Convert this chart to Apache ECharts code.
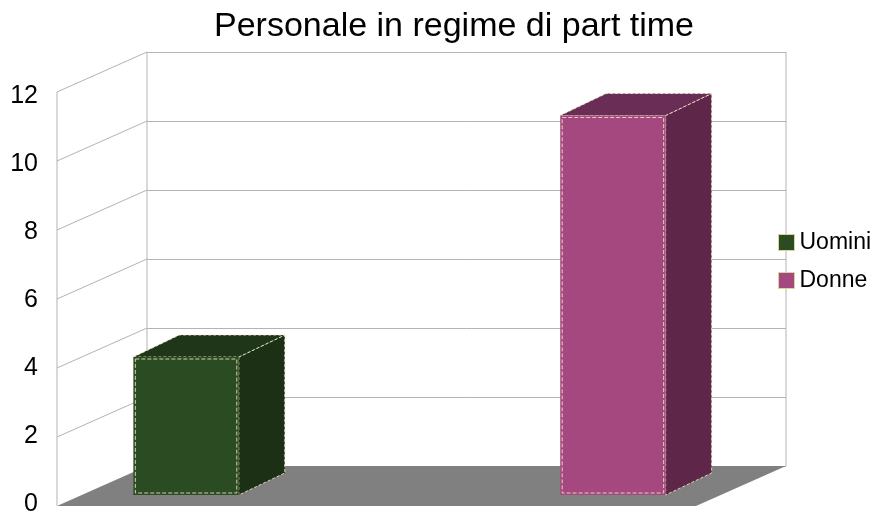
<!DOCTYPE html>
<html>
<head>
<meta charset="utf-8">
<title>Personale in regime di part time</title>
<script src="https://cdn.jsdelivr.net/npm/echarts@6/dist/echarts.min.js"></script>
<style>
  html, body { margin: 0; padding: 0; background: #ffffff; }
  #chart { width: 885px; height: 517px; }
</style>
</head>
<body>
<div id="chart"></div>
<script>
// Chart data
const chartTitle = 'Personale in regime di part time';
const categories = [''];
const seriesNames = ['Uomini', 'Donne'];
const seriesValues = [4, 11];
const yMin = 0;
const yMax = 12;
const yStep = 2;

// Styling
const FONT = 'Liberation Sans, Arial, sans-serif';
const GRID_COLOR = '#b3b3b3';
const FLOOR_COLOR = '#808080';
const FRONT_COLORS = ['#2b4b23', '#a5487f'];
const TOP_COLORS = ['#1f3718', '#6a2d55'];
const SIDE_COLORS = ['#1b3014', '#5e2749'];
const EDGE_COLOR = 'rgba(240, 232, 196, 0.85)';

// Oblique projection: shift from the back wall to the front edge of the box
const WALL_DEPTH = [-90, 40];
// Bar front and back planes, relative to the back wall
const BAR_FRONT = [-67, 29];
const BAR_BACK = [-21, 7];
const BAR_RATIO = 0.165;   // bar width as a share of the category band
const SLOT_SPREAD = 0.668; // distance between the two bars as a share of the band

const chart = echarts.init(document.getElementById('chart'), null, { renderer: 'canvas' });

function line(x1, y1, x2, y2) {
  return {
    type: 'line',
    shape: { x1: x1, y1: y1, x2: x2, y2: y2 },
    style: { stroke: GRID_COLOR, lineWidth: 1 },
    silent: true
  };
}

// Floor, left wall and outer edges of the back wall
function renderFrame(params, api) {
  const cs = params.coordSys;
  const left = cs.x, right = cs.x + cs.width;
  const y0 = api.coord([0, yMin])[1];
  const yTop = api.coord([0, yMax])[1];
  const dx = WALL_DEPTH[0], dy = WALL_DEPTH[1];
  const children = [];
  children.push({
    type: 'polygon',
    shape: { points: [[left, y0], [right, y0], [right + dx, y0 + dy], [left + dx, y0 + dy]] },
    style: { fill: FLOOR_COLOR },
    silent: true
  });
  for (let v = yMin + yStep; v <= yMax; v += yStep) {
    const y = api.coord([0, v])[1];
    children.push(line(left + dx, y + dy, left, y));
  }
  children.push(line(left + dx, yTop + dy, left + dx, y0 + dy));
  children.push(line(left, yTop, left, y0));
  children.push(line(right, yTop, right, y0));
  return { type: 'group', children: children };
}

// One 3D box per series
function makeBarRenderer(seriesIdx) {
  return function (params, api) {
    const cat = api.value(0);
    const v = api.value(1);
    const base = api.coord([cat, yMin]);
    const top = api.coord([cat, v]);
    const band = api.size([1, 0])[0];
    const n = seriesNames.length;
    const cx = base[0] + (seriesIdx - (n - 1) / 2) * SLOT_SPREAD * band;
    const w = BAR_RATIO * band;
    const xl = cx - w / 2, xr = cx + w / 2;

    const fl = [xl + BAR_FRONT[0], top[1] + BAR_FRONT[1]];
    const fr = [xr + BAR_FRONT[0], top[1] + BAR_FRONT[1]];
    const frb = [xr + BAR_FRONT[0], base[1] + BAR_FRONT[1]];
    const flb = [xl + BAR_FRONT[0], base[1] + BAR_FRONT[1]];
    const bl = [xl + BAR_BACK[0], top[1] + BAR_BACK[1]];
    const br = [xr + BAR_BACK[0], top[1] + BAR_BACK[1]];
    const brb = [xr + BAR_BACK[0], base[1] + BAR_BACK[1]];

    const dash = { stroke: EDGE_COLOR, lineWidth: 1, lineDash: [3, 2] };
    return {
      type: 'group',
      children: [
        {
          type: 'polygon',
          shape: { points: [fr, br, brb, frb] },
          style: Object.assign({ fill: SIDE_COLORS[seriesIdx] }, dash)
        },
        {
          type: 'polygon',
          shape: { points: [fl, fr, br, bl] },
          style: Object.assign({ fill: TOP_COLORS[seriesIdx] }, dash)
        },
        {
          type: 'rect',
          shape: { x: fl[0], y: fl[1], width: fr[0] - fl[0], height: flb[1] - fl[1] },
          style: { fill: FRONT_COLORS[seriesIdx] }
        },
        {
          type: 'rect',
          shape: { x: fl[0] + 2, y: fl[1] + 2, width: fr[0] - fl[0] - 4, height: flb[1] - fl[1] - 4 },
          style: { fill: null, stroke: EDGE_COLOR, lineWidth: 1, lineDash: [4, 2] }
        }
      ]
    };
  };
}

const barSeries = seriesNames.map(function (name, i) {
  return {
    type: 'custom',
    name: name,
    xAxisIndex: 0,
    yAxisIndex: 0,
    z: 3,
    itemStyle: { color: FRONT_COLORS[i], borderColor: '#d8d49c', borderWidth: 1 },
    renderItem: makeBarRenderer(i),
    data: [[0, seriesValues[i]]]
  };
});

const option = {
  animation: false,
  backgroundColor: '#ffffff',
  title: {
    text: chartTitle,
    left: 209,
    top: 5,
    textStyle: { fontFamily: FONT, fontSize: 34, fontWeight: 'normal', color: '#000000' }
  },
  legend: {
    orient: 'vertical',
    left: 773,
    top: 226,
    itemWidth: 16,
    itemHeight: 16,
    itemGap: 15,
    itemTextGap: 11,
    itemStyle: { borderColor: '#d8d49c', borderWidth: 1 },
    textStyle: { fontFamily: FONT, fontSize: 23, color: '#000000' },
    data: seriesNames.map(function (name) { return { name: name, icon: 'rect' }; })
  },
  grid: [
    // back wall
    { left: 147, right: 99, top: 52, bottom: 51 },
    // front edge, used for the value labels
    { left: 57, right: 189, top: 96, bottom: 7 }
  ],
  xAxis: [
    { type: 'category', gridIndex: 0, data: categories, show: false },
    { type: 'category', gridIndex: 1, data: categories, show: false }
  ],
  yAxis: [
    {
      type: 'value', gridIndex: 0, min: yMin, max: yMax, interval: yStep,
      axisLine: { show: false }, axisTick: { show: false }, axisLabel: { show: false },
      splitLine: { show: true, lineStyle: { color: GRID_COLOR, width: 1 } }
    },
    {
      type: 'value', gridIndex: 1, min: yMin, max: yMax, interval: yStep,
      axisLine: { show: false }, axisTick: { show: false }, splitLine: { show: false },
      axisLabel: { margin: 19, fontFamily: FONT, fontSize: 25, color: '#000000' }
    }
  ],
  series: [
    {
      type: 'custom',
      name: 'frame',
      xAxisIndex: 0,
      yAxisIndex: 0,
      z: 1,
      silent: true,
      renderItem: renderFrame,
      data: [[0, 0]]
    }
  ].concat(barSeries)
};

chart.setOption(option);
</script>
</body>
</html>
